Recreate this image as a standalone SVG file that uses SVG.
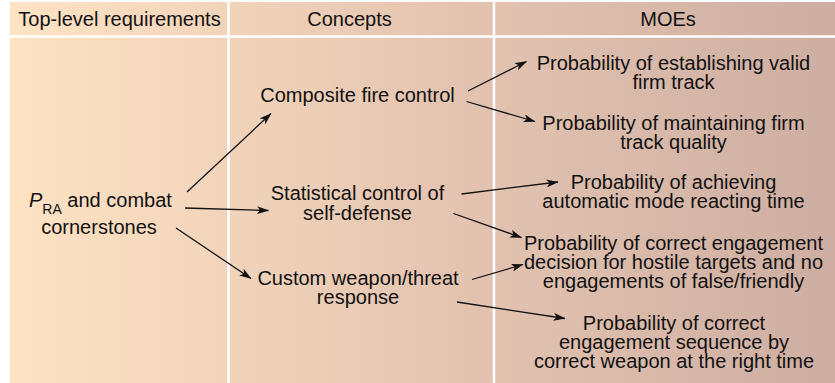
<svg xmlns="http://www.w3.org/2000/svg" width="835" height="383" viewBox="0 0 835 383">
  <defs>
    <linearGradient id="bg" x1="10" y1="0" x2="835" y2="0" gradientUnits="userSpaceOnUse">
      <stop offset="0" stop-color="#fee3c4"/>
      <stop offset="0.5" stop-color="#e6c6b2"/>
      <stop offset="1" stop-color="#ceaea2"/>
    </linearGradient>
    <marker id="arr" viewBox="0 0 12 8" refX="11.5" refY="4" markerWidth="12" markerHeight="8" markerUnits="userSpaceOnUse" orient="auto">
      <path d="M0,0 L12,4 L0,8 L3,4 Z" fill="#111"/>
    </marker>
    <style>
      text { font-family: "Liberation Sans", Arial, Helvetica, sans-serif; font-size: 20px; fill: #111; }
      .c { text-anchor: middle; }
      .sep { stroke: #ffffff; stroke-width: 2.5; }
      .conn line { stroke: #111; stroke-width: 1.3; marker-end: url(#arr); }
    </style>
  </defs>

  <rect x="10" y="2" width="825" height="381" fill="url(#bg)"/>
  <g id="grid">
    <line class="sep" x1="10" y1="36.5" x2="835" y2="36.5"/>
    <line class="sep" x1="228.5" y1="2" x2="228.5" y2="383"/>
    <line class="sep" x1="494" y1="2" x2="494" y2="383"/>
  </g>

  <g id="headers">
    <text class="c" x="119.5" y="26">Top-level requirements</text>
    <text class="c" x="349.5" y="26">Concepts</text>
    <text class="c" x="668" y="26">MOEs</text>
  </g>

  <g id="n-pra">
    <text x="29" y="207"><tspan font-style="italic">P</tspan><tspan font-size="14" dy="7">RA</tspan><tspan dy="-7"> and combat</tspan></text>
    <text class="c" x="99" y="233.5">cornerstones</text>
  </g>

  <g id="n-composite">
    <text class="c" x="357.5" y="101.5">Composite fire control</text>
  </g>
  <g id="n-statistical">
    <text class="c" x="357.5" y="200">Statistical control of</text>
    <text class="c" x="357.5" y="219.5">self-defense</text>
  </g>
  <g id="n-custom">
    <text class="c" x="358" y="285">Custom weapon/threat</text>
    <text class="c" x="358" y="303.5">response</text>
  </g>

  <g id="m-establish">
    <text class="c" x="673.5" y="69.5">Probability of establishing valid</text>
    <text class="c" x="673.5" y="88.5">firm track</text>
  </g>
  <g id="m-maintain">
    <text class="c" x="673.5" y="129.5">Probability of maintaining firm</text>
    <text class="c" x="673.5" y="148.5">track quality</text>
  </g>
  <g id="m-achieve">
    <text class="c" x="673.5" y="189">Probability of achieving</text>
    <text class="c" x="673.5" y="208">automatic mode reacting time</text>
  </g>
  <g id="m-decision">
    <text class="c" x="673.5" y="249.5">Probability of correct engagement</text>
    <text class="c" x="673.5" y="268.5">decision for hostile targets and no</text>
    <text class="c" x="673.5" y="287.5">engagements of false/friendly</text>
  </g>
  <g id="m-sequence">
    <text class="c" x="674" y="329.5">Probability of correct</text>
    <text class="c" x="674" y="348.5">engagement sequence by</text>
    <text class="c" x="674" y="367.5">correct weapon at the right time</text>
  </g>

  <g class="conn" id="connectors">
    <line x1="187" y1="192" x2="271" y2="113.5"/>
    <line x1="185" y1="208" x2="268.5" y2="210.5"/>
    <line x1="176" y1="228" x2="251" y2="278.5"/>
    <line x1="468" y1="91" x2="526.5" y2="61.5"/>
    <line x1="466.5" y1="101.5" x2="535" y2="121.5"/>
    <line x1="461.5" y1="194" x2="558" y2="182"/>
    <line x1="453.5" y1="213.5" x2="521.5" y2="237.5"/>
    <line x1="472" y1="279.5" x2="523" y2="264.5"/>
    <line x1="457" y1="302" x2="565" y2="318.5"/>
  </g>
</svg>
